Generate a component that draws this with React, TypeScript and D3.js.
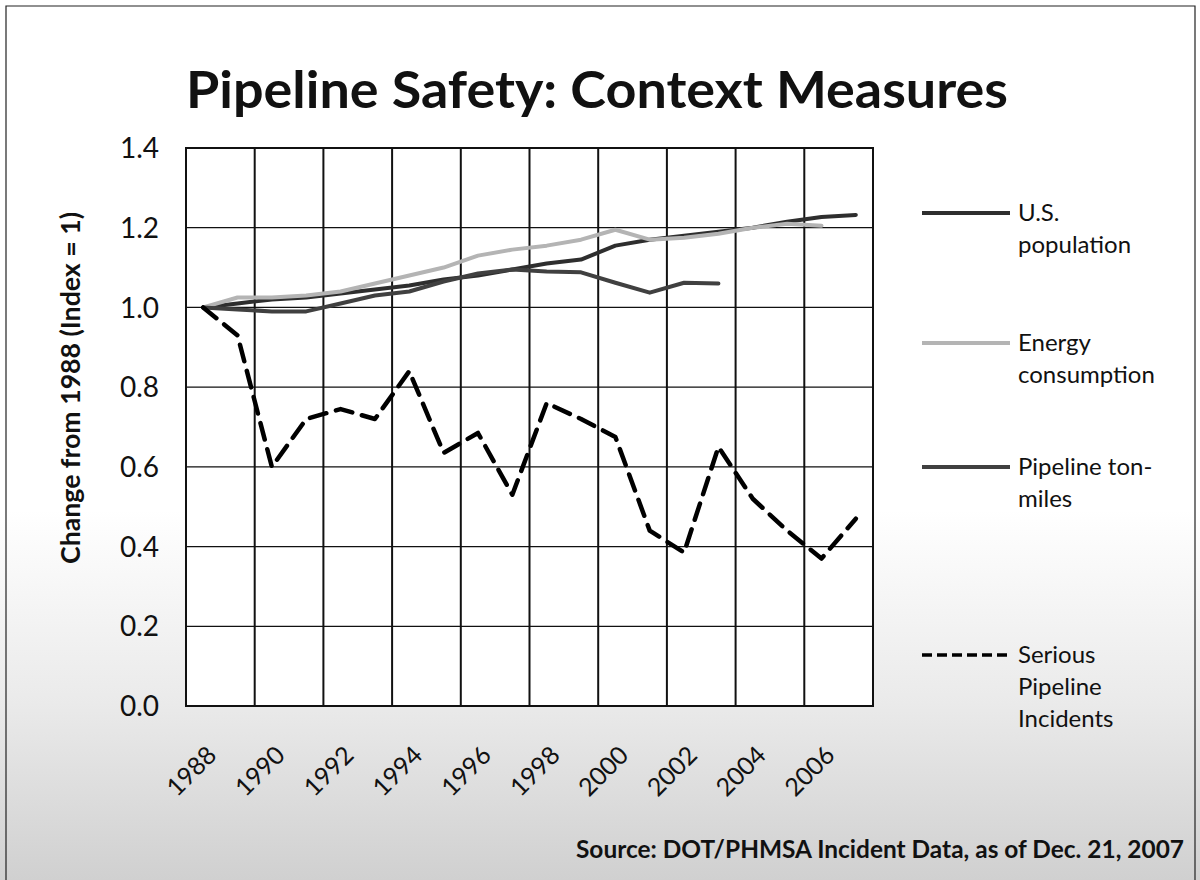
import React from "react";
import * as d3 from "d3";

const years = [1988, 1989, 1990, 1991, 1992, 1993, 1994, 1995, 1996, 1997, 1998, 1999, 2000, 2001, 2002, 2003, 2004, 2005, 2006, 2007];
const tickYears = [1988, 1990, 1992, 1994, 1996, 1998, 2000, 2002, 2004, 2006];
const yTicks = [0, 0.2, 0.4, 0.6, 0.8, 1.0, 1.2, 1.4];

const population = [1.0, 1.01, 1.02, 1.025, 1.035, 1.045, 1.055, 1.07, 1.08, 1.095, 1.11, 1.12, 1.155, 1.17, 1.18, 1.19, 1.2, 1.215, 1.227, 1.232];
const energy = [1.0, 1.025, 1.025, 1.03, 1.04, 1.06, 1.08, 1.1, 1.13, 1.145, 1.155, 1.17, 1.195, 1.17, 1.175, 1.185, 1.2, 1.21, 1.205, null];
const tonMiles = [1.0, 0.995, 0.99, 0.99, 1.01, 1.03, 1.04, 1.065, 1.085, 1.095, 1.09, 1.088, 1.062, 1.037, 1.062, 1.06, null, null, null, null];
const incidents = [1.0, 0.93, 0.6, 0.72, 0.745, 0.72, 0.84, 0.635, 0.685, 0.53, 0.76, 0.72, 0.675, 0.44, 0.385, 0.65, 0.52, 0.44, 0.37, 0.47];

const seriesNames = [["U.S.", "population"], ["Energy", "consumption"], ["Pipeline ton-", "miles"], ["Serious", "Pipeline", "Incidents"]];

const FONT = "Lato, 'Open Sans', sans-serif";

export default function App() {
  const W = 1200, H = 880;
  const left = 186, right = 873, top = 148, bottom = 706;

  const x = d3.scaleBand<number>().domain(years).range([left, right]).paddingInner(0).paddingOuter(0);
  const bw = x.bandwidth();
  const cx = (yr: number) => (x(yr) as number) + bw / 2;
  const y = d3.scaleLinear().domain([0, 1.4]).range([bottom, top]);

  const line = d3
    .line<number | null>()
    .defined((d) => d != null)
    .x((_, i) => cx(years[i]))
    .y((d) => y(d as number));

  const series = [
    { data: population, color: "#2e2e2e", width: 4, dash: "" },
    { data: energy, color: "#b4b4b4", width: 4, dash: "" },
    { data: tonMiles, color: "#404040", width: 4, dash: "" },
    { data: incidents, color: "#000", width: 4.5, dash: "17,10" },
  ];

  const vGrid = d3.range(0, years.length + 1, 2).map((i) => left + i * bw);

  const legendY = [213, 343, 467, 655];
  const legendBase = [221, 351, 475, 663];

  return (
    <svg width={W} height={H} style={{ position: "absolute", left: 0, top: 0, display: "block" }} fontFamily={FONT}>
      <defs>
        <linearGradient id="bg" x1="0" y1="0" x2="0" y2="1">
          <stop offset="0" stopColor="#ffffff" />
          <stop offset="0.58" stopColor="#ffffff" />
          <stop offset="0.8" stopColor="#eaeaea" />
          <stop offset="1" stopColor="#d0d0d0" />
        </linearGradient>
      </defs>
      <rect x={0} y={0} width={W} height={H} fill="url(#bg)" />
      <path d={`M6,880 L6,6 L1195,6 L1195,880`} fill="none" stroke="#222" strokeWidth={1.2} />

      <text x={597} y={108} textAnchor="middle" fontWeight="bold" fontSize={52} textLength={822} lengthAdjust="spacingAndGlyphs" fill="#111">
        Pipeline Safety: Context Measures
      </text>

      <rect x={left} y={top} width={right - left} height={bottom - top} fill="#fff" />
      {yTicks.map((t) => (
        <line key={"h" + t} x1={left} x2={right} y1={y(t)} y2={y(t)} stroke="#111" strokeWidth={1.3} />
      ))}
      {vGrid.map((gx, i) => (
        <line key={"v" + i} x1={gx} x2={gx} y1={top} y2={bottom} stroke="#111" strokeWidth={2} />
      ))}
      <rect x={left} y={top} width={right - left} height={bottom - top} fill="none" stroke="#111" strokeWidth={2} />

      {series.map((s, i) => (
        <path
          key={"s" + i}
          d={line(s.data) as string}
          fill="none"
          stroke={s.color}
          strokeWidth={s.width}
          strokeDasharray={s.dash || undefined}
          strokeLinejoin="round"
          strokeLinecap="round"
        />
      ))}

      {yTicks.map((t) => (
        <text key={"yt" + t} x={159} y={y(t)} dy="0.36em" textAnchor="end" fontSize={28} fill="#111">
          {t.toFixed(1)}
        </text>
      ))}
      <text transform={`translate(80,388) rotate(-90)`} textAnchor="middle" fontWeight="bold" fontSize={26} textLength={352} lengthAdjust="spacingAndGlyphs" fill="#111">
        Change from 1988 (Index = 1)
      </text>

      {tickYears.map((yr) => (
        <text key={"xt" + yr} transform={`translate(${cx(yr) + 2},744) rotate(-45)`} textAnchor="end" dy="0.72em" fontSize={25} fill="#111">
          {yr}
        </text>
      ))}

      {series.map((s, i) => (
        <g key={"lg" + i}>
          <line
            x1={922}
            x2={1010}
            y1={legendY[i]}
            y2={legendY[i]}
            stroke={s.color}
            strokeWidth={s.dash ? 3.5 : 4}
            strokeDasharray={s.dash ? "10,5" : undefined}
          />
          {seriesNames[i].map((t, j) => (
            <text key={j} x={1018} y={legendBase[i] + j * 32} fontSize={24} fill="#111">
              {t}
            </text>
          ))}
        </g>
      ))}

      <text x={1184} y={858} textAnchor="end" fontWeight="bold" fontSize={25} textLength={608} lengthAdjust="spacingAndGlyphs" fill="#111">
        Source: DOT/PHMSA Incident Data, as of Dec. 21, 2007
      </text>
    </svg>
  );
}
